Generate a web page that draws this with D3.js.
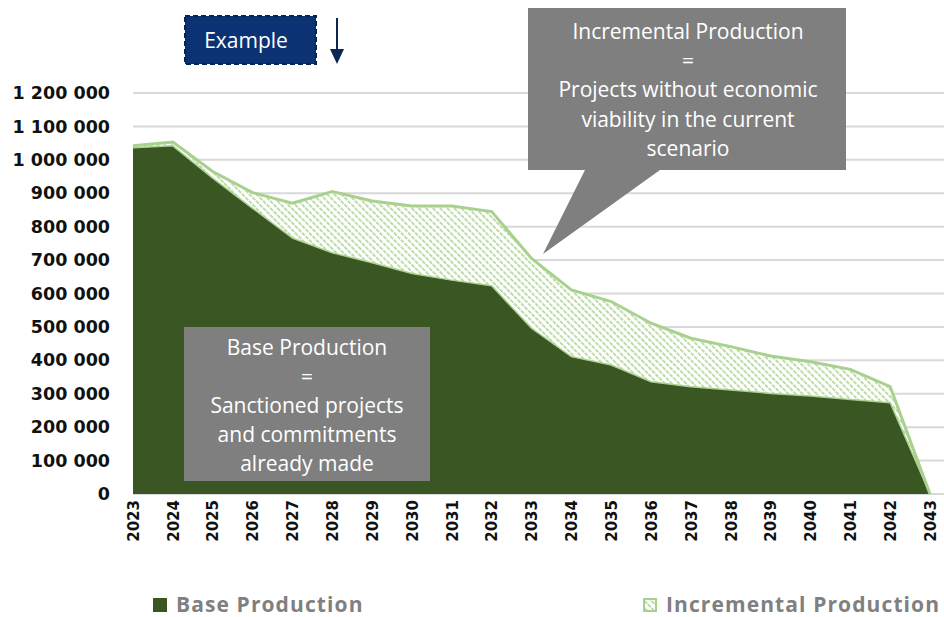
<!DOCTYPE html>
<html>
<head>
<meta charset="utf-8">
<script src="https://cdn.jsdelivr.net/npm/d3@7"></script>
<style>
  body { margin: 0; background: #fff; }
  svg { display: block; }
</style>
</head>
<body>
<div id="chart"></div>
<script>
// data
var years = ["2023","2024","2025","2026","2027","2028","2029","2030","2031","2032","2033",
             "2034","2035","2036","2037","2038","2039","2040","2041","2042","2043"];
var base_production = [1036000, 1042000, 945000, 855000, 766000, 722000, 692000, 660000, 640000, 623000, 496000,
                       411000, 386000, 336000, 321000, 311000, 301000, 293000, 283000, 273000, 0];
var incremental_production = [6000, 11000, 20000, 47000, 104000, 183000, 185000, 202000, 222000, 222000, 209000,
                              200000, 190000, 175000, 145000, 130000, 112000, 103000, 90000, 48000, 0];
var y_ticks = [0, 100000, 200000, 300000, 400000, 500000, 600000, 700000, 800000, 900000, 1000000, 1100000, 1200000];
var legend_items = ["Base Production", "Incremental Production"];
var callout_incremental = ["Incremental Production", "=", "Projects without economic", "viability in the current", "scenario"];
var callout_base = ["Base Production", "=", "Sanctioned projects", "and commitments", "already made"];

var WIDTH = 944, HEIGHT = 617;
var DARK = "#3a5623", LIGHT = "#a9d18e";

const svg = d3.select("#chart").append("svg").attr("width", WIDTH).attr("height", HEIGHT)

const defs = svg.append("defs")
const pat = defs.append("pattern").attr("id", "hatch").attr("patternUnits", "userSpaceOnUse")
    .attr("width", 5).attr("height", 5).attr("patternTransform", "rotate(45)")
pat.append("rect").attr("width", 5).attr("height", 5).attr("fill", "#fff")
pat.append("line").attr("x1", 0).attr("x2", 5).attr("y1", 1).attr("y2", 1)
    .attr("stroke", LIGHT).attr("stroke-width", 1.6).attr("stroke-dasharray", "2,1")

// scales
const x_scale = d3.scalePoint().domain(years).range([133, 930])
const y_scale = d3.scaleLinear().domain([0, 1200000]).range([494, 93])

// grid lines
svg.append("g").selectAll("line").data(y_ticks).enter().append("line")
    .attr("x1", 133).attr("x2", 944).attr("y1", d => y_scale(d)).attr("y2", d => y_scale(d))
    .attr("stroke", "#d9d9d9").attr("stroke-width", 2)

const rows = years.map((y, i) => ({year: y, base: base_production[i], total: base_production[i] + incremental_production[i]}))

const area_base = d3.area().x(d => x_scale(d.year)).y0(y_scale(0)).y1(d => y_scale(d.base))
const area_inc = d3.area().x(d => x_scale(d.year)).y0(d => y_scale(d.base)).y1(d => y_scale(d.total))
const line_top = d3.line().x(d => x_scale(d.year)).y(d => y_scale(d.total))
const line_base = d3.line().x(d => x_scale(d.year)).y(d => y_scale(d.base))

svg.append("path").datum(rows).attr("d", area_base).attr("fill", DARK)
svg.append("path").datum(rows).attr("d", area_inc).attr("fill", "url(#hatch)")
svg.append("path").datum(rows).attr("d", line_base).attr("fill", "none").attr("stroke", LIGHT).attr("stroke-width", 1.5)
svg.append("path").datum(rows).attr("d", line_top).attr("fill", "none").attr("stroke", LIGHT).attr("stroke-width", 3)

// y axis
const gen_y = d3.axisLeft(y_scale).tickValues(y_ticks).tickSize(0).tickPadding(0)
    .tickFormat(d => d3.format(",")(d).replace(/,/g, " "))
const y_axis = svg.append("g").attr("transform", "translate(110,0)").call(gen_y)
y_axis.select(".domain").remove()
y_axis.selectAll("text").attr("font-family", "DejaVu Sans").attr("font-weight", "bold")
    .attr("font-size", 17.5).attr("fill", "#111")

// x axis
const gen_x = d3.axisBottom(x_scale).tickSize(0).tickPadding(0)
const x_axis = svg.append("g").attr("transform", "translate(0,500)").call(gen_x)
x_axis.select(".domain").remove()
x_axis.selectAll("text").attr("font-family", "DejaVu Sans").attr("font-weight", "bold")
    .attr("font-size", 15).attr("fill", "#111")
    .attr("transform", "rotate(-90)").attr("text-anchor", "end").attr("dy", "0.35em").attr("x", 0).attr("y", 0)

// callout: incremental
const c1 = svg.append("g")
c1.append("path").attr("d", "M528,8 H846 V170 H660 L543,254 L585,170 H528 Z").attr("fill", "#7f7f7f")
c1.selectAll("text").data(callout_incremental).enter().append("text")
    .attr("x", 688).attr("y", (d, i) => 39 + i * 29.2).attr("text-anchor", "middle")
    .attr("font-family", "Open Sans").attr("font-size", 21).attr("fill", "#fff").text(d => d)

// callout: base
const c2 = svg.append("g")
c2.append("rect").attr("x", 184).attr("y", 327).attr("width", 246).attr("height", 154).attr("fill", "#7f7f7f")
c2.selectAll("text").data(callout_base).enter().append("text")
    .attr("x", 307).attr("y", (d, i) => 355 + i * 29).attr("text-anchor", "middle")
    .attr("font-family", "Open Sans").attr("font-size", 21).attr("fill", "#fff").text(d => d)

// example badge + arrow
svg.append("rect").attr("x", 185).attr("y", 16).attr("width", 131).attr("height", 48)
    .attr("fill", "#0b3373").attr("stroke", "#06234f").attr("stroke-width", 2).attr("stroke-dasharray", "5,3")
svg.append("text").attr("x", 246).attr("y", 48).attr("text-anchor", "middle")
    .attr("font-family", "Open Sans").attr("font-size", 21).attr("fill", "#fff").text("Example")
svg.append("line").attr("x1", 337).attr("x2", 337).attr("y1", 18).attr("y2", 50)
    .attr("stroke", "#0b2556").attr("stroke-width", 2)
svg.append("path").attr("d", "M330,49 L344,49 L337,64 Z").attr("fill", "#0b2556")

// legend
const legend = svg.append("g")
legend_items.forEach((name, i) => {
    const lx = i == 0 ? 153 : 643
    const row = legend.append("g").attr("transform", "translate(" + lx + ",598)")
    if (i == 0) {
        row.append("rect").attr("width", 14).attr("height", 14).attr("fill", DARK)
    } else {
        row.append("rect").attr("x", 1).attr("y", 1).attr("width", 12).attr("height", 12)
            .attr("fill", "url(#hatch)").attr("stroke", LIGHT).attr("stroke-width", 2)
    }
    row.append("text").attr("x", 23).attr("y", 14).attr("font-family", "Open Sans").attr("font-weight", "bold")
        .attr("font-size", 21).attr("letter-spacing", 1.1).attr("fill", "#808080").text(name)
})
</script>
</body>
</html>
